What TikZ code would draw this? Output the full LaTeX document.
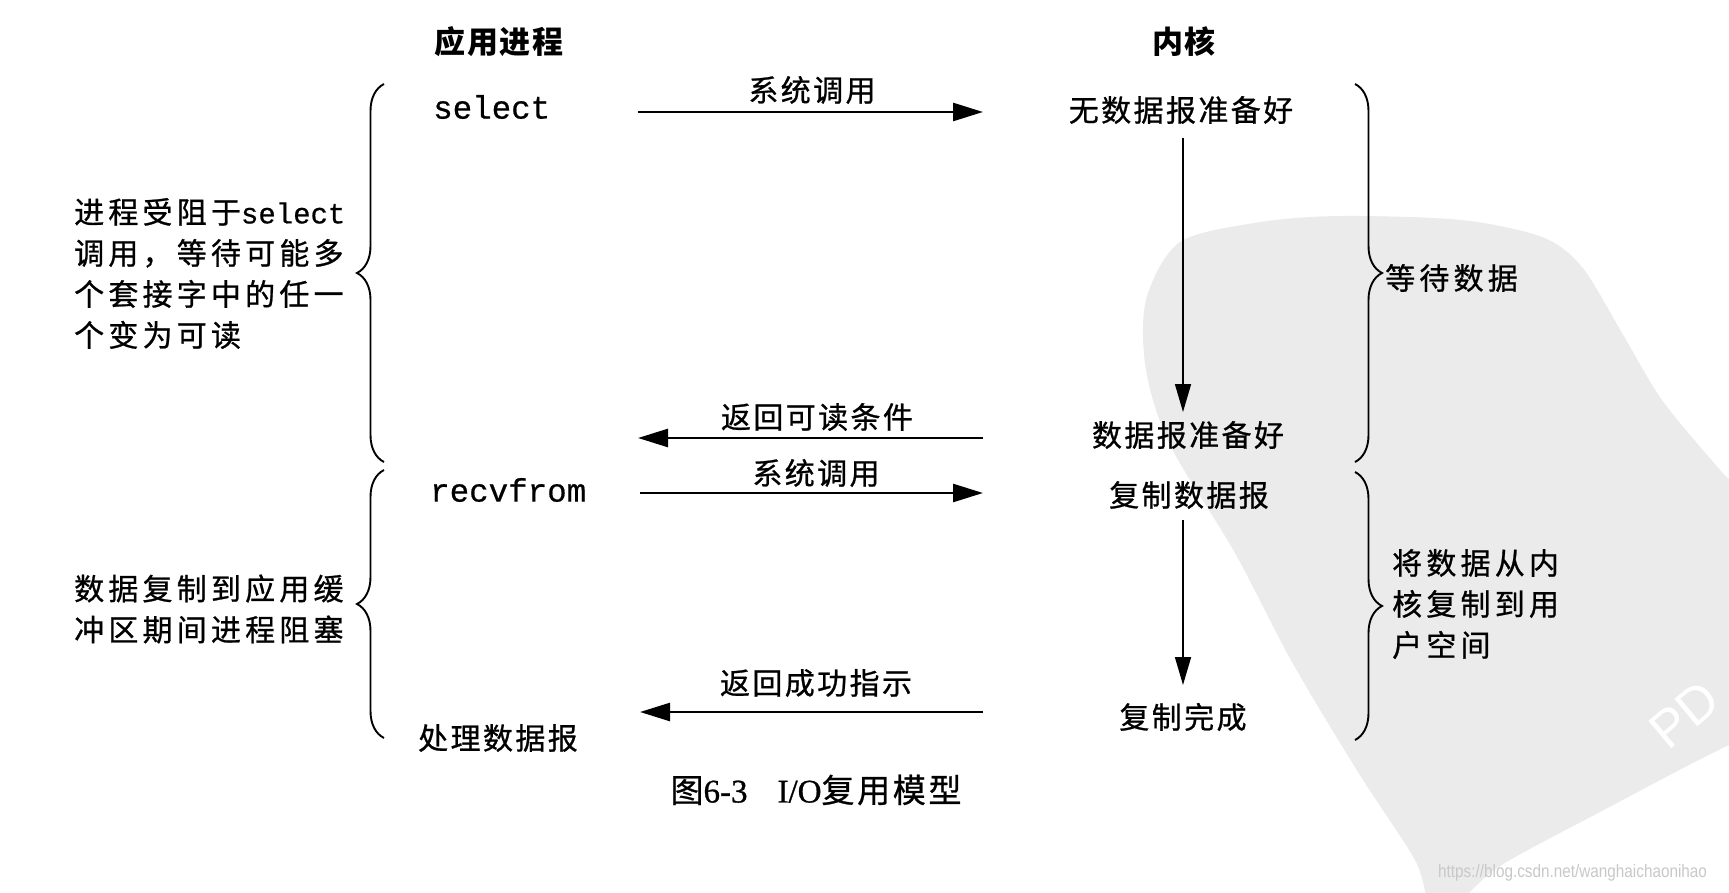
\documentclass[tikz,border=0pt]{standalone}
\usepackage{graphicx}
\usepackage{fontspec}
\setmainfont{Noto Sans CJK SC}
\newfontfamily\cjk{Noto Sans CJK SC}[LetterSpace=8,FakeBold=0.8]
\newfontfamily\cjkwide{Noto Sans CJK SC}[LetterSpace=14,FakeBold=0.8]
\newfontfamily\cjkhdr{Noto Sans CJK SC}[LetterSpace=5]
\newfontfamily\monofont{Liberation Mono}[FakeBold=0.6]
\newfontfamily\serifont{Liberation Serif}[FakeBold=0.8]
\newfontfamily\sansfont{Liberation Sans}
\usetikzlibrary{arrows.meta,decorations.pathreplacing}
\definecolor{wmgray}{RGB}{235,235,235}
\definecolor{urlgray}{RGB}{200,200,200}
\newcommand{\smallmono}[1]{{\fontsize{29}{41}\selectfont\monofont #1}}
\begin{document}
\begin{tikzpicture}[x=1pt,y=-1pt,
  lbl/.style={inner sep=0pt, font=\fontsize{30}{41}\selectfont\cjk},
  side/.style={inner sep=0pt, align=left, anchor=west, font=\fontsize{30}{41}\selectfont\cjkwide},
  hdr/.style={inner sep=0pt, font=\fontsize{31}{41}\selectfont\cjkhdr\bfseries},
  code/.style={inner sep=0pt, anchor=west, font=\fontsize{32.5}{41}\selectfont\monofont},
  harrow/.style={line width=2.6pt, -{Triangle[length=30pt,width=18pt]}},
  varrow/.style={line width=1.6pt, -{Triangle[length=28pt,width=16pt]}},
  brc/.style={decorate, decoration={brace, amplitude=27pt}, line width=1.9pt}
]
\useasboundingbox (0,0) rectangle (1729,893);
\fill[white] (0,0) rectangle (1729,893);
% watermark
\begin{scope}
\clip (0,0) rectangle (1729,893);
\fill[wmgray] plot[smooth cycle] coordinates {(1146,300) (1180,242) (1261,222) (1341,216) (1461,220) (1542,237) (1582,267) (1622,333) (1662,400) (1720,470) (1800,560) (1800,720) (1729,745) (1600,812) (1500,866) (1455,905) (1430,905) (1415,860) (1358,772) (1292,662) (1235,553) (1170,445) (1146,370)};
\node[rotate=40, text=white, inner sep=0pt, anchor=south west, font=\fontsize{52}{52}\selectfont\sansfont] (wmpd) at (1668,752) {PD};
\end{scope}
\node[anchor=west, inner sep=0pt, text=urlgray, font=\fontsize{18}{18}\selectfont\sansfont] (url) at (1438,873) {\scalebox{0.85}[1]{https://blog.csdn.net/wanghaichaonihao}};

% headers
\node[hdr] (happ) at (499,42) {应用进程};
\node[hdr] (hker) at (1184,42) {内核};

% application side
\node[code] (sel) at (433,107) {select};
\node[code] (recv) at (430,490) {recvfrom};
\node[lbl, anchor=west] (proc) at (418,738) {处理数据报};

% kernel side
\node[lbl] (nodata) at (1181,110) {无数据报准备好};
\node[lbl] (ready) at (1188,435) {数据报准备好};
\node[lbl] (copy) at (1189,495) {复制数据报};
\node[lbl] (done) at (1183,717) {复制完成};

% side texts
\node[side] (lt1) at (74,273.5) {进程受阻于\smallmono{select}\\调用，等待可能多\\个套接字中的任一\\个变为可读};
\node[side] (lt2) at (74,609) {数据复制到应用缓\\冲区期间进程阻塞};
\node[side] (rt1) at (1385,278) {等待数据};
\node[side] (rt2) at (1392,604) {将数据从内\\核复制到用\\户空间};

% braces
\coordinate (lb1b) at (384,462); \coordinate (lb1t) at (384,84);
\coordinate (lb2b) at (384,738); \coordinate (lb2t) at (384,470);
\coordinate (rb1t) at (1355,84); \coordinate (rb1b) at (1355,462);
\coordinate (rb2t) at (1355,472); \coordinate (rb2b) at (1355,740);
\draw[brc] (lb1b) -- (lb1t);
\draw[brc] (lb2b) -- (lb2t);
\draw[brc] (rb1t) -- (rb1b);
\draw[brc] (rb2t) -- (rb2b);

% horizontal arrows
\coordinate (a1s) at (638,112); \coordinate (a1e) at (983,112);
\coordinate (a2s) at (983,438); \coordinate (a2e) at (638,438);
\coordinate (a3s) at (640,493); \coordinate (a3e) at (983,493);
\coordinate (a4s) at (983,712); \coordinate (a4e) at (640,712);
\draw[harrow] (a1s) -- (a1e);
\draw[harrow] (a2s) -- (a2e);
\draw[harrow] (a3s) -- (a3e);
\draw[harrow] (a4s) -- (a4e);
\node[lbl] (l1) at (812,90) {系统调用};
\node[lbl] (l2) at (817,417) {返回可读条件};
\node[lbl] (l3) at (816,473) {系统调用};
\node[lbl] (l4) at (816,683) {返回成功指示};

% vertical arrows
\coordinate (v1s) at (1183,138); \coordinate (v1e) at (1183,412);
\coordinate (v2s) at (1183,520); \coordinate (v2e) at (1183,685);
\draw[varrow] (v1s) -- (v1e);
\draw[varrow] (v2s) -- (v2e);

% caption
\node[inner sep=0pt, font=\fontsize{33}{41}\selectfont] (cap) at (816,790) {{\cjk 图}{\serifont 6-3}\hspace{30pt}{\serifont I/O}{\cjk 复用模型}};
\end{tikzpicture}
\end{document}
